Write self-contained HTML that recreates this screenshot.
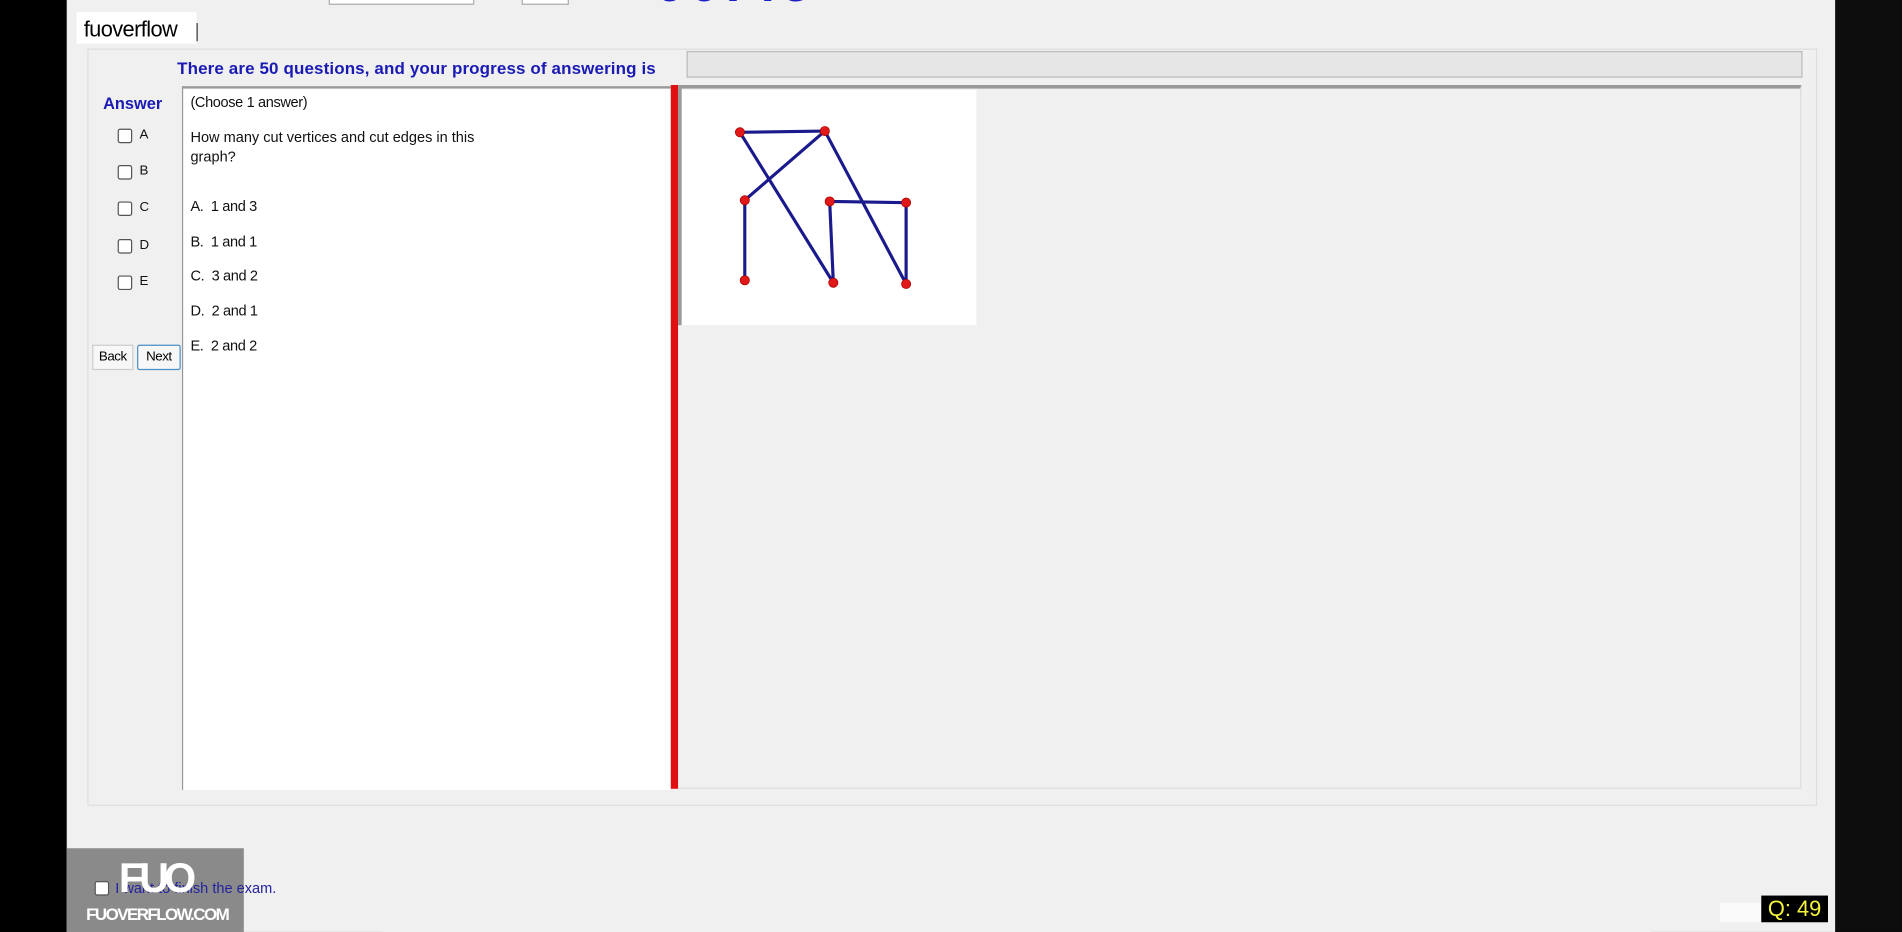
<!DOCTYPE html>
<html><head><meta charset="utf-8"><style>
html,body{margin:0;padding:0;width:1902px;height:932px;overflow:hidden;background:#000}
#w{position:absolute;left:0;top:0;width:1568px;height:768px;transform:scale(1.2130,1.2135);transform-origin:0 0;font-family:"Liberation Sans",sans-serif}
.a{position:absolute}
.cb{position:absolute;width:10px;height:10px;border:1px solid #555;border-radius:2px;background:#fff}
.t{position:absolute;font-size:12px;color:#111;letter-spacing:-0.3px}
</style></head><body>
<div id="w">
<div class="a" style="left:0;top:0;width:55px;height:768px;background:#000"></div>
<div class="a" style="left:55px;top:0;width:1458px;height:768px;background:#f0f0f0"></div>
<div class="a" style="left:1513px;top:0;width:55px;height:768px;background:#0d0d0d"></div>
<div class="a" style="left:271px;top:-2px;width:118px;height:4px;border:1px solid #aaa;background:#fff"></div>
<div class="a" style="left:430px;top:-2px;width:37px;height:4px;border:1px solid #aaa;background:#fff"></div>
<div class="a" style="left:540px;top:-38px;font-size:44px;font-weight:bold;color:#1c1cc8;letter-spacing:4px">00:45</div>
<div class="a" style="left:63px;top:10px;width:99px;height:26px;background:#fff;font-size:18px;line-height:28px;padding-left:6px;box-sizing:border-box;letter-spacing:-0.5px">fuoverflow</div>
<div class="a" style="left:162px;top:19px;width:1px;height:15px;background:#333"></div>
<div class="a" style="left:72px;top:40px;width:1424px;height:622px;border:1px solid #ddd"></div>
<div class="a" style="left:146px;top:48px;font-size:14px;font-weight:bold;color:#1a1ab4;letter-spacing:0.1px">There are 50 questions, and your progress of answering is</div>
<div class="a" style="left:566px;top:42px;width:918px;height:20px;border:1px solid #bbb;background:#e6e6e6"></div>
<div class="a" style="left:85px;top:78px;font-size:13.5px;font-weight:bold;color:#1a1ab4">Answer</div>
<div class="cb" style="left:97px;top:106px"></div><div class="t" style="left:115px;top:105px;font-size:11px">A</div>
<div class="cb" style="left:97px;top:136px"></div><div class="t" style="left:115px;top:135px;font-size:11px">B</div>
<div class="cb" style="left:97px;top:166px"></div><div class="t" style="left:115px;top:165px;font-size:11px">C</div>
<div class="cb" style="left:97px;top:197px"></div><div class="t" style="left:115px;top:196px;font-size:11px">D</div>
<div class="cb" style="left:97px;top:227px"></div><div class="t" style="left:115px;top:226px;font-size:11px">E</div>
<div class="a" style="left:76px;top:284px;width:32px;height:19px;border:1px solid #ccc;background:#f7f7f7;font-size:11px;text-align:center;line-height:19px;letter-spacing:-0.4px">Back</div>
<div class="a" style="left:113px;top:284px;width:34px;height:19px;border:1px solid #4a90c8;border-radius:2px;background:#f7f7f7;font-size:11px;text-align:center;line-height:19px;letter-spacing:-0.4px">Next</div>
<div class="a" style="left:150px;top:71px;width:402px;height:578px;background:#fff;border-top:2px solid #999;border-left:1px solid #999"></div>
<div class="t" style="left:157px;top:77px">(Choose 1 answer)</div>
<div class="t" style="left:157px;top:105px;line-height:16px;letter-spacing:0">How many cut vertices and cut edges in this<br>graph?</div>
<div class="t" style="left:157px;top:163px">A.&nbsp; 1 and 3</div>
<div class="t" style="left:157px;top:192px">B.&nbsp; 1 and 1</div>
<div class="t" style="left:157px;top:220px">C.&nbsp; 3 and 2</div>
<div class="t" style="left:157px;top:249px">D.&nbsp; 2 and 1</div>
<div class="t" style="left:157px;top:278px">E.&nbsp; 2 and 2</div>
<div class="a" style="left:553px;top:70px;width:6px;height:580px;background:#e01010"></div>
<div class="a" style="left:559px;top:70px;width:926px;height:580px;border-top:3px solid #999;border-right:1px solid #ddd;border-bottom:1px solid #ddd;box-sizing:border-box"></div>
<div class="a" style="left:559px;top:73px;width:3px;height:195px;background:#999"></div>
<svg class="a" style="left:562px;top:74px" width="243" height="194">
<rect width="243" height="194" fill="#fff"/>
<g stroke="#1a1a8c" stroke-width="2.6" stroke-linecap="round" id="edges"></g>
<g id="nodes" fill="#e01818" stroke="#a00" stroke-width="0.6"></g>
</svg>
<div class="a" style="left:55px;top:699px;width:146px;height:69px;background:#8a8a8a"></div>
<div class="cb" style="left:78px;top:726px"></div>
<div class="a" style="left:95px;top:725px;font-size:12px;color:#2323a0">I want to finish the exam.</div>
<div class="a" style="left:98px;top:706px;font-size:34px;font-weight:bold;color:#fff;letter-spacing:-4px;line-height:36px">FUO</div>
<div class="a" style="left:71px;top:745px;font-size:14px;font-weight:bold;color:#fff;letter-spacing:-1.3px">FUOVERFLOW.COM</div>
<div class="a" style="left:1418px;top:744px;width:34px;height:16px;background:#fafafa"></div>
<div class="a" style="left:1452px;top:738px;width:55px;height:22px;background:#000;color:#f4f43c;font-size:18px;line-height:22px;text-align:center">Q: 49</div>
</div>
<script>
const nodeX=[48,118,52,122,185,52,125,185];
const nodeY=[35,34,91,92,93,157,159,160];
const edgeFrom=[0,0,1,1,2,3,3,4];
const edgeTo=[1,6,2,7,5,4,6,7];
const ns="http://www.w3.org/2000/svg";
const eg=document.getElementById('edges'),ng=document.getElementById('nodes');
for(let i=0;i<edgeFrom.length;i++){const l=document.createElementNS(ns,'line');
l.setAttribute('x1',nodeX[edgeFrom[i]]);l.setAttribute('y1',nodeY[edgeFrom[i]]);
l.setAttribute('x2',nodeX[edgeTo[i]]);l.setAttribute('y2',nodeY[edgeTo[i]]);


eg.appendChild(l);}
for(let i=0;i<nodeX.length;i++){const c=document.createElementNS(ns,'circle');
c.setAttribute('cx',nodeX[i]);c.setAttribute('cy',nodeY[i]);c.setAttribute('r',3.8);


ng.appendChild(c);}
</script>
</body></html>
